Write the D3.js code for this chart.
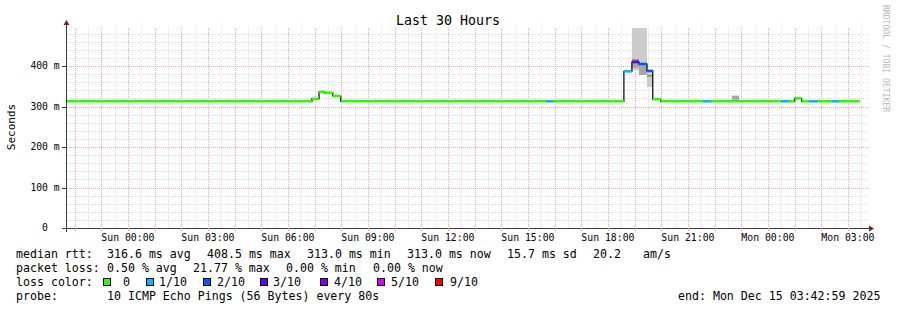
<!DOCTYPE html>
<html>
<head>
<meta charset="utf-8">
<script src="https://cdn.jsdelivr.net/npm/d3@7"></script>
<style>
  body { margin: 0; background: #fff; }
  svg { display: block; font-family: "DejaVu Sans Mono", monospace; }
</style>
</head>
<body>
<div id="chart"></div>
<script>
// median rtt steps: each step runs until the next start (last one until seriesEnd)
const stepStart = [
  "2025-12-13T21:42:59", "2025-12-14T06:54", "2025-12-14T07:10", "2025-12-14T07:23",
  "2025-12-14T07:41", "2025-12-14T07:59", "2025-12-14T15:42", "2025-12-14T15:56",
  "2025-12-14T18:36", "2025-12-14T18:54", "2025-12-14T19:10", "2025-12-14T19:28",
  "2025-12-14T19:41", "2025-12-14T19:59", "2025-12-14T21:34", "2025-12-14T21:52",
  "2025-12-15T00:31", "2025-12-15T00:47", "2025-12-15T01:00", "2025-12-15T01:16",
  "2025-12-15T01:34", "2025-12-15T01:52", "2025-12-15T02:24", "2025-12-15T02:40"
];
const seriesEnd = "2025-12-15T03:26";
const medianMs = [313, 319, 336, 334, 326, 313, 313, 313, 387, 410, 405, 388,
                  318, 313, 313, 313, 313, 313, 320, 313, 313, 313, 313, 313];
const lossTenths = [0, 0, 0, 0, 0, 0, 1, 0, 1, 3, 2, 2,
                    0, 0, 1, 0, 1, 0, 0, 0, 1, 0, 1, 0];

// smoke (ping spread) layers: [start, end, lowMs, highMs]
const smokeOuter = [
  ["2025-12-14T18:54", "2025-12-14T19:10", 390, 520],
  ["2025-12-14T19:10", "2025-12-14T19:28", 378, 520],
  ["2025-12-14T19:28", "2025-12-14T19:41", 348, 385]
];
const smokeMid = [
  ["2025-12-14T18:54", "2025-12-14T19:10", 396, 408],
  ["2025-12-14T19:10", "2025-12-14T19:28", 378, 402],
  ["2025-12-14T22:39", "2025-12-14T22:55", 319, 327]
];
const smokeCore = [
  ["2025-12-14T18:54", "2025-12-14T19:10", 411, 417],
  ["2025-12-14T19:28", "2025-12-14T19:41", 374, 378],
  ["2025-12-14T22:39", "2025-12-14T22:55", 317, 319]
];

const lossLabels = ["0", "1/10", "2/10", "3/10", "4/10", "5/10", "9/10"];
const lossColors = ["#26ff00", "#00b8ff", "#0059ff", "#5e00ff", "#7e00ff", "#dd00ff", "#ff0000"];

const yTicks = [0, 100, 200, 300, 400];
const rttStats = ["316.6 ms avg", "408.5 ms max", "313.0 ms min", "313.0 ms now", "15.7 ms sd", "20.2", "am/s"];
const lossStats = ["0.50 % avg", "21.77 % max", "0.00 % min", "0.00 % now"];
const probeText = "10 ICMP Echo Pings (56 Bytes) every 80s";
const endText = "end: Mon Dec 15 03:42:59 2025";
const windowStart = "2025-12-13T21:42:59";
const windowEnd = "2025-12-15T03:42:59";

const W = 897, H = 310;
const x0 = 67, x1 = 867, yBottom = 228, yTop = 28;

const x = d3.scaleTime()
  .domain([new Date(windowStart), new Date(windowEnd)])
  .range([x0, x1]);
const y = d3.scaleLinear().domain([0, 494]).range([yBottom, yTop]);

const svg = d3.select("#chart").append("svg")
  .attr("width", W).attr("height", H);
svg.append("rect").attr("width", W).attr("height", H).attr("fill", "#fff");

svg.append("defs").append("clipPath").attr("id", "plot")
  .append("rect").attr("x", x0).attr("y", yTop).attr("width", x1 - x0).attr("height", yBottom - yTop);

const gridColor = "#dcdcdc", mgridColor = "#f2a8a8";

// grid
const grid = svg.append("g").attr("stroke-dasharray", "1,1").attr("shape-rendering", "crispEdges");
const minorY = d3.range(20, 494, 20).filter(v => v % 100 !== 0);
grid.selectAll(".hy").data(minorY).join("line")
  .attr("x1", x0).attr("x2", x1 + 1)
  .attr("y1", d => Math.round(y(d)) + 0.5).attr("y2", d => Math.round(y(d)) + 0.5)
  .attr("stroke", gridColor);
const halfHours = d3.timeMinute.every(30).range(x.domain()[0], x.domain()[1]);
grid.selectAll(".vx").data(halfHours.filter(d => d.getMinutes() !== 0)).join("line")
  .attr("x1", d => Math.round(x(d)) + 0.5).attr("x2", d => Math.round(x(d)) + 0.5)
  .attr("y1", yTop).attr("y2", yBottom)
  .attr("stroke", gridColor);
grid.selectAll(".my").data(yTicks.filter(d => d > 0)).join("line")
  .attr("x1", x0).attr("x2", x1 + 1)
  .attr("y1", d => Math.round(y(d)) + 0.5).attr("y2", d => Math.round(y(d)) + 0.5)
  .attr("stroke", mgridColor);
const hours = d3.timeHour.range(x.domain()[0], x.domain()[1]);
grid.selectAll(".mx").data(hours).join("line")
  .attr("x1", d => Math.round(x(d)) + 0.5).attr("x2", d => Math.round(x(d)) + 0.5)
  .attr("y1", yTop).attr("y2", yBottom)
  .attr("stroke", mgridColor);

// smoke
const plot = svg.append("g").attr("clip-path", "url(#plot)");
function drawSmoke(layer, color) {
  plot.append("g").selectAll("rect").data(layer).join("rect")
    .attr("x", d => x(new Date(d[0])))
    .attr("width", d => x(new Date(d[1])) - x(new Date(d[0])))
    .attr("y", d => y(d[3]))
    .attr("height", d => y(d[2]) - y(d[3]))
    .attr("fill", color);
}
drawSmoke(smokeOuter, "#cccccc");
drawSmoke(smokeMid, "#a6a6a6");
drawSmoke(smokeCore, "#858585");

// median: thin black step line, then coloured segments by loss
const steps = stepStart.map((t, i) => ({
  t0: new Date(t),
  t1: new Date(i + 1 < stepStart.length ? stepStart[i + 1] : seriesEnd),
  v: medianMs[i],
  loss: lossTenths[i]
}));
const stepPts = steps.map(d => [d.t0, d.v]).concat([[steps[steps.length - 1].t1, steps[steps.length - 1].v]]);
plot.append("path")
  .attr("d", d3.line().curve(d3.curveStepAfter).x(d => x(d[0])).y(d => y(d[1]))(stepPts))
  .attr("fill", "none").attr("stroke", "#000").attr("stroke-width", 1.2);

const lossColor = l => lossColors[Math.min(l, 6)];
plot.append("g").selectAll("line").data(steps).join("line")
  .attr("x1", d => x(d.t0)).attr("x2", d => x(d.t1))
  .attr("y1", d => y(d.v)).attr("y2", d => y(d.v))
  .attr("stroke", d => lossColor(d.loss))
  .attr("stroke-width", 2.6);

// axes
const axisColor = "#3a3a3a", arrowColor = "#7f1f1f";
svg.append("line").attr("x1", x0 - 5).attr("x2", x1 + 3)
  .attr("y1", yBottom + 0.5).attr("y2", yBottom + 0.5)
  .attr("stroke", axisColor).attr("shape-rendering", "crispEdges");
svg.append("line").attr("x1", x0 - 0.5).attr("x2", x0 - 0.5)
  .attr("y1", yBottom + 4).attr("y2", yTop - 4)
  .attr("stroke", axisColor).attr("shape-rendering", "crispEdges");
svg.append("path").attr("d", `M${x0 - 3.5},${yTop - 3} L${x0 - 0.5},${yTop - 8} L${x0 + 2.5},${yTop - 3} Z`)
  .attr("fill", arrowColor);
svg.append("path").attr("d", `M${x1 + 2},${yBottom - 2.5} L${x1 + 7},${yBottom + 0.5} L${x1 + 2},${yBottom + 3.5} Z`)
  .attr("fill", arrowColor);

// y ticks and labels
svg.append("g").selectAll("line").data(yTicks).join("line")
  .attr("x1", x0 - 5).attr("x2", x0)
  .attr("y1", d => Math.round(y(d)) + 0.5).attr("y2", d => Math.round(y(d)) + 0.5)
  .attr("stroke", axisColor).attr("shape-rendering", "crispEdges");
svg.append("g").selectAll("text").data(yTicks).join("text")
  .attr("x", 45).attr("y", d => y(d))
  .attr("dy", "0.35em")
  .attr("text-anchor", "middle")
  .attr("font-size", 9.7)
  .attr("fill", "#000")
  .text(d => d === 0 ? "0" : `${d} m`);

// x tick labels every 3 hours
const labelHours = hours.filter(d => d.getHours() % 3 === 0);
svg.append("g").selectAll("line").data(hours).join("line")
  .attr("x1", d => Math.round(x(d)) + 0.5).attr("x2", d => Math.round(x(d)) + 0.5)
  .attr("y1", yBottom).attr("y2", yBottom + 3)
  .attr("stroke", mgridColor).attr("shape-rendering", "crispEdges");
svg.append("g").selectAll("text").data(labelHours).join("text")
  .attr("x", d => x(d)).attr("y", 238)
  .attr("dy", "0.35em")
  .attr("text-anchor", "middle")
  .attr("font-size", 9.8)
  .text(d3.timeFormat("%a %H:%M"));

// title, y label, watermark
svg.append("text").attr("x", 448).attr("y", 20).attr("dy", "0.35em")
  .attr("text-anchor", "middle").attr("font-size", 13.3).text("Last 30 Hours");
svg.append("text").attr("transform", "translate(11,127) rotate(-90)")
  .attr("dy", "0.35em").attr("text-anchor", "middle").attr("font-size", 11).text("Seconds");
svg.append("text").attr("transform", "translate(886,5) rotate(90)")
  .attr("dy", "0.35em").attr("font-size", 8.1).attr("fill", "#b8b8b8")
  .text("RRDTOOL / TOBI OETIKER");

// legend
const legend = svg.append("g").attr("font-size", 11.6).attr("fill", "#000");
function legendText(tx, ty, s) {
  legend.append("text").attr("x", tx).attr("y", ty).attr("dy", "0.35em")
    .attr("xml:space", "preserve").text(s);
}
const rowY = [254, 268, 282, 296];
const rttX = [107, 207, 307, 407, 507, 593, 643];
const lossStatX = [107, 193, 286, 373];
const boxX = [103, 146, 203, 260, 320, 377, 435];
const boxLabelX = [123, 159, 217, 273, 334, 391, 450];

legendText(16, rowY[0], "median rtt:");
rttStats.forEach((s, i) => legendText(rttX[i], rowY[0], s));
legendText(16, rowY[1], "packet loss:");
lossStats.forEach((s, i) => legendText(lossStatX[i], rowY[1], s));
legendText(16, rowY[2], "loss color:");
lossLabels.forEach((s, i) => {
  legend.append("rect").attr("x", boxX[i] + 0.5).attr("y", rowY[2] - 3.5)
    .attr("width", 7).attr("height", 7)
    .attr("fill", lossColors[i]).attr("stroke", "#000").attr("stroke-width", 1);
  legendText(boxLabelX[i], rowY[2], s);
});
legendText(16, rowY[3], "probe:");
legendText(107, rowY[3], probeText);
legendText(678, rowY[3], endText);
</script>
</body>
</html>
